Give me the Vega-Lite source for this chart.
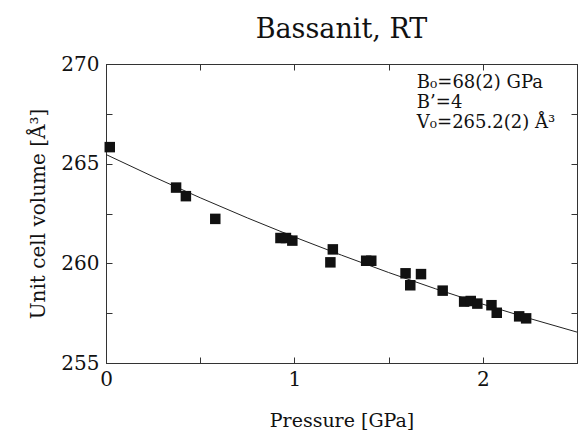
{
  "$schema": "https://vega.github.io/schema/vega-lite/v6.json",
  "width": 471,
  "height": 299,
  "autosize": {"type": "none"},
  "padding": {"left": 106, "top": 64, "right": 4, "bottom": 70},
  "background": "white",
  "config": {
    "font": "DejaVu Serif",
    "view": {"stroke": "#333", "strokeWidth": 1},
    "axis": {"grid": false, "domainColor": "#333", "tickColor": "#333", "labelColor": "#111", "titleColor": "#111", "labelFont": "DejaVu Serif", "titleFont": "DejaVu Serif", "titleFontWeight": "normal"}
  },
  "title": {"text": "Bassanit, RT", "fontSize": 27, "font": "DejaVu Serif", "fontWeight": "normal", "color": "#111", "offset": 10, "anchor": "middle"},
  "datasets": {
    "pts": [
      {"P": 0.02, "V": 265.83}, {"P": 0.372, "V": 263.8}, {"P": 0.424, "V": 263.37}, {"P": 0.58, "V": 262.23},
      {"P": 0.926, "V": 261.27}, {"P": 0.955, "V": 261.27}, {"P": 0.989, "V": 261.14}, {"P": 1.191, "V": 260.05},
      {"P": 1.204, "V": 260.7}, {"P": 1.381, "V": 260.13}, {"P": 1.408, "V": 260.13}, {"P": 1.59, "V": 259.5},
      {"P": 1.615, "V": 258.9}, {"P": 1.672, "V": 259.46}, {"P": 1.787, "V": 258.63}, {"P": 1.901, "V": 258.08},
      {"P": 1.936, "V": 258.11}, {"P": 1.971, "V": 257.98}, {"P": 2.046, "V": 257.9}, {"P": 2.074, "V": 257.52},
      {"P": 2.193, "V": 257.34}, {"P": 2.23, "V": 257.24}
    ],
    "fit": [
      {"P": 0, "V": 265.46}, {"P": 0.25, "V": 264.35}, {"P": 0.5, "V": 263.29}, {"P": 0.75, "V": 262.28},
      {"P": 1.0, "V": 261.32}, {"P": 1.25, "V": 260.41}, {"P": 1.5, "V": 259.54}, {"P": 1.75, "V": 258.72},
      {"P": 2.0, "V": 257.95}, {"P": 2.25, "V": 257.23}, {"P": 2.5, "V": 256.55}
    ],
    "ann": [
      {"P": 1.65, "V": 269.05, "t": "B₀=68(2) GPa"},
      {"P": 1.65, "V": 268.04, "t": "B’=4"},
      {"P": 1.65, "V": 267.04, "t": "V₀=265.2(2) Å³"}
    ]
  },
  "resolve": {"axis": {"x": "independent", "y": "independent"}},
  "layer": [
    {
      "data": {"name": "fit"},
      "mark": {"type": "line", "color": "#222", "strokeWidth": 1},
      "encoding": {
        "x": {"field": "P", "type": "quantitative", "scale": {"domain": [0, 2.5], "nice": false},
          "axis": {"orient": "bottom", "values": [0, 0.5, 1, 1.5, 2], "tickSize": -6, "labelExpr": "datum.value % 1 == 0 ? format(datum.value, 'd') : ''", "labelFontSize": 20, "labelPadding": 12, "title": "Pressure [GPa]", "titleFontSize": 19, "titlePadding": 22, "labelFlush": false}},
        "y": {"field": "V", "type": "quantitative", "scale": {"domain": [255, 270], "nice": false, "zero": false},
          "axis": {"orient": "left", "values": [255, 257.5, 260, 262.5, 265, 267.5, 270], "tickSize": -6, "labelExpr": "datum.value % 5 == 0 ? format(datum.value, 'd') : ''", "labelFontSize": 20, "labelPadding": 13, "title": "Unit cell volume [Å³]", "titleFontSize": 20, "titlePadding": 12}}
      }
    },
    {
      "data": {"name": "pts"},
      "mark": {"type": "square", "color": "#111", "opacity": 1, "size": 110},
      "encoding": {
        "x": {"field": "P", "type": "quantitative", "axis": {"orient": "top", "values": [0, 0.5, 1, 1.5, 2], "tickSize": -6, "labels": false, "title": null}},
        "y": {"field": "V", "type": "quantitative", "axis": {"orient": "right", "values": [255, 257.5, 260, 262.5, 265, 267.5, 270], "tickSize": -6, "labels": false, "title": null}}
      }
    },
    {
      "data": {"name": "ann"},
      "mark": {"type": "text", "align": "left", "baseline": "middle", "fontSize": 18, "color": "#111", "font": "DejaVu Serif"},
      "encoding": {
        "x": {"field": "P", "type": "quantitative", "axis": null},
        "y": {"field": "V", "type": "quantitative", "axis": null},
        "text": {"field": "t"}
      }
    }
  ]
}
